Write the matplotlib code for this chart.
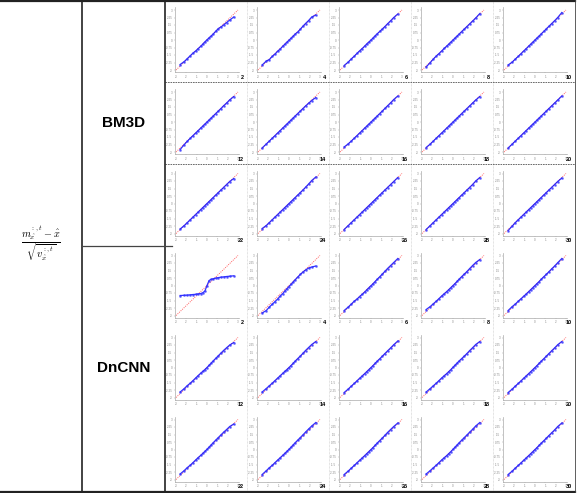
import matplotlib
matplotlib.use("Agg")
import matplotlib.pyplot as plt

plt.rcParams['font.family'] = ['Liberation Sans', 'DejaVu Sans']
plt.rcParams['mathtext.fontset'] = 'cm'

W, H = 581, 493

# theoretical quantiles (x) shared by every panel
theo = [-2.6, -2.2, -1.9, -1.6, -1.35, -1.1, -0.85, -0.6, -0.4, -0.2, 0.0,
        0.2, 0.4, 0.6, 0.85, 1.1, 1.35, 1.6, 1.9, 2.2, 2.6]

methods = ["BM3D", "DnCNN"]
sigmas = [2, 4, 6, 8, 10, 12, 14, 16, 18, 20, 22, 24, 26, 28, 30]

# sample quantiles
bm3d_q = {
    2:  [-2.45, -2.15, -1.85, -1.55, -1.3, -1.1, -0.85, -0.62, -0.4, -0.18, 0.02, 0.22, 0.4, 0.6, 0.88, 1.15, 1.3, 1.5, 1.75, 2.0, 2.3],
    4:  [-2.5, -2.1, -1.95, -1.62, -1.4, -1.12, -0.9, -0.62, -0.42, -0.22, -0.02, 0.18, 0.38, 0.6, 0.8, 1.08, 1.38, 1.65, 1.95, 2.3, 2.5],
    6:  [-2.55, -2.2, -1.88, -1.6, -1.33, -1.08, -0.85, -0.6, -0.38, -0.2, 0.0, 0.2, 0.42, 0.62, 0.86, 1.1, 1.35, 1.62, 1.92, 2.25, 2.6],
    8:  [-2.7, -2.25, -1.9, -1.58, -1.35, -1.1, -0.84, -0.6, -0.4, -0.2, 0.0, 0.2, 0.4, 0.6, 0.85, 1.1, 1.35, 1.6, 1.9, 2.2, 2.65],
    10: [-2.5, -2.2, -1.9, -1.62, -1.36, -1.1, -0.86, -0.6, -0.4, -0.2, 0.0, 0.21, 0.4, 0.61, 0.86, 1.12, 1.37, 1.63, 1.93, 2.25, 2.75],
    12: [-2.75, -2.25, -1.92, -1.6, -1.35, -1.1, -0.85, -0.6, -0.4, -0.2, 0.0, 0.2, 0.4, 0.6, 0.85, 1.1, 1.35, 1.62, 1.9, 2.22, 2.55],
    14: [-2.6, -2.2, -1.9, -1.6, -1.35, -1.1, -0.85, -0.6, -0.4, -0.2, 0.0, 0.2, 0.4, 0.6, 0.85, 1.1, 1.35, 1.6, 1.88, 2.15, 2.45],
    16: [-2.5, -2.18, -1.9, -1.6, -1.35, -1.1, -0.85, -0.6, -0.4, -0.2, 0.0, 0.2, 0.4, 0.6, 0.85, 1.1, 1.36, 1.62, 1.92, 2.25, 2.6],
    18: [-2.55, -2.2, -1.9, -1.6, -1.35, -1.1, -0.85, -0.6, -0.4, -0.2, 0.0, 0.2, 0.4, 0.6, 0.85, 1.1, 1.35, 1.6, 1.9, 2.2, 2.55],
    20: [-2.6, -2.2, -1.9, -1.6, -1.35, -1.1, -0.85, -0.6, -0.4, -0.2, 0.0, 0.2, 0.4, 0.6, 0.85, 1.1, 1.35, 1.6, 1.9, 2.2, 2.6],
    22: [-2.55, -2.2, -1.9, -1.6, -1.35, -1.1, -0.85, -0.6, -0.4, -0.2, 0.0, 0.2, 0.4, 0.6, 0.85, 1.1, 1.35, 1.6, 1.9, 2.2, 2.5],
    24: [-2.5, -2.2, -1.9, -1.6, -1.35, -1.1, -0.85, -0.6, -0.4, -0.2, 0.0, 0.2, 0.4, 0.6, 0.85, 1.1, 1.35, 1.62, 1.95, 2.3, 2.65],
    26: [-2.6, -2.2, -1.9, -1.6, -1.35, -1.1, -0.85, -0.6, -0.4, -0.2, 0.0, 0.2, 0.4, 0.6, 0.85, 1.1, 1.35, 1.6, 1.9, 2.2, 2.6],
    28: [-2.6, -2.2, -1.9, -1.6, -1.35, -1.1, -0.85, -0.6, -0.4, -0.2, 0.0, 0.2, 0.4, 0.6, 0.85, 1.1, 1.35, 1.6, 1.9, 2.25, 2.6],
    30: [-2.7, -2.25, -1.9, -1.6, -1.35, -1.1, -0.85, -0.6, -0.4, -0.2, 0.0, 0.2, 0.4, 0.6, 0.85, 1.1, 1.35, 1.6, 1.9, 2.2, 2.55],
}

dncnn_q = {
    2:  [-1.0, -0.98, -0.96, -0.93, -0.9, -0.88, -0.84, -0.8, -0.72, -0.55, 0.0, 0.5, 0.62, 0.68, 0.74, 0.79, 0.83, 0.86, 0.9, 0.93, 0.97],
    4:  [-2.75, -2.5, -2.15, -1.85, -1.6, -1.35, -1.05, -0.8, -0.55, -0.32, -0.1, 0.12, 0.35, 0.58, 0.85, 1.12, 1.35, 1.55, 1.75, 1.85, 1.95],
    6:  [-2.5, -2.15, -1.85, -1.55, -1.35, -1.1, -0.88, -0.64, -0.42, -0.22, -0.02, 0.18, 0.4, 0.62, 0.88, 1.15, 1.42, 1.7, 2.0, 2.3, 2.7],
    8:  [-2.4, -2.1, -1.82, -1.55, -1.3, -1.05, -0.82, -0.6, -0.4, -0.2, 0.0, 0.2, 0.42, 0.64, 0.9, 1.15, 1.4, 1.68, 2.0, 2.3, 2.6],
    10: [-2.5, -2.1, -1.85, -1.55, -1.32, -1.08, -0.85, -0.6, -0.4, -0.2, 0.0, 0.2, 0.4, 0.62, 0.88, 1.12, 1.38, 1.65, 1.95, 2.28, 2.7],
    12: [-2.45, -2.1, -1.8, -1.55, -1.3, -1.05, -0.8, -0.56, -0.38, -0.2, 0.0, 0.22, 0.44, 0.66, 0.92, 1.18, 1.44, 1.7, 1.98, 2.25, 2.5],
    14: [-2.45, -2.1, -1.82, -1.55, -1.3, -1.06, -0.82, -0.58, -0.38, -0.2, 0.0, 0.2, 0.42, 0.64, 0.9, 1.15, 1.42, 1.7, 2.0, 2.3, 2.6],
    16: [-2.5, -2.15, -1.85, -1.58, -1.32, -1.08, -0.84, -0.6, -0.4, -0.2, 0.0, 0.2, 0.42, 0.63, 0.88, 1.14, 1.4, 1.66, 1.96, 2.28, 2.65],
    18: [-2.45, -2.1, -1.82, -1.55, -1.3, -1.05, -0.82, -0.6, -0.4, -0.2, 0.02, 0.24, 0.45, 0.66, 0.9, 1.15, 1.4, 1.68, 1.98, 2.3, 2.6],
    20: [-2.5, -2.15, -1.85, -1.58, -1.33, -1.08, -0.84, -0.6, -0.4, -0.2, 0.0, 0.2, 0.42, 0.63, 0.88, 1.14, 1.4, 1.66, 1.96, 2.28, 2.6],
    22: [-2.45, -2.1, -1.8, -1.55, -1.3, -1.05, -0.8, -0.58, -0.38, -0.18, 0.02, 0.24, 0.46, 0.68, 0.94, 1.2, 1.46, 1.72, 2.0, 2.3, 2.55],
    24: [-2.5, -2.12, -1.82, -1.56, -1.3, -1.06, -0.82, -0.58, -0.38, -0.18, 0.02, 0.24, 0.46, 0.68, 0.94, 1.2, 1.46, 1.74, 2.05, 2.35, 2.7],
    26: [-2.5, -2.15, -1.85, -1.58, -1.32, -1.08, -0.84, -0.6, -0.4, -0.2, 0.0, 0.2, 0.42, 0.64, 0.9, 1.15, 1.42, 1.7, 2.0, 2.3, 2.65],
    28: [-2.45, -2.1, -1.82, -1.55, -1.3, -1.05, -0.82, -0.6, -0.4, -0.2, 0.02, 0.24, 0.46, 0.68, 0.94, 1.2, 1.45, 1.72, 2.02, 2.35, 2.7],
    30: [-2.5, -2.15, -1.85, -1.58, -1.33, -1.08, -0.84, -0.6, -0.4, -0.2, 0.0, 0.2, 0.42, 0.63, 0.88, 1.14, 1.4, 1.66, 1.96, 2.3, 2.65],
}

x_ticks = [-3, -2, -1, 0, 1, 2, 3]
y_ticks = [-3.0, -2.25, -1.5, -0.75, 0.0, 0.75, 1.5, 2.25, 3.0]

col_x = [165, 247, 329, 411, 493]
row_y = [0, 82, 163.5, 245.5, 327.5, 409.5]
cell_w, cell_h = 82, 82


def box(x0, y0, w, h):
    return [x0 / W, 1 - (y0 + h) / H, w / W, h / H]


fig = plt.figure(figsize=(W / 100, H / 100), dpi=100)

# table frame drawn on an overlay in pixel units
frame = fig.add_axes([0, 0, 1, 1])
frame.set_xlim(0, W)
frame.set_ylim(H, 0)
frame.axis('off')

for xs in col_x[1:]:
    frame.plot([xs, xs], [0, 491.5], color='#c8c8c8', lw=0.5, ls=(0, (1, 1)))
for ys in row_y[1:3]:
    frame.plot([165, 575], [ys, ys], color='#555555', lw=0.6, ls=(0, (2, 1)))
frame.plot([0, 575], [0.8, 0.8], color='#222222', lw=1.6)
frame.plot([0, 575], [491.5, 491.5], color='#222222', lw=1.6)
frame.plot([82.3, 82.3], [0, 491.5], color='#222222', lw=1.2)
frame.plot([164.7, 164.7], [0, 491.5], color='#222222', lw=1.2)
frame.plot([575, 575], [0, 491.5], color='#444444', lw=0.6)
frame.plot([82.3, 172], [246, 246], color='#444444', lw=0.9)

frame.text(41, 244, r'$\frac{m_{\hat{x}}^{:,t}-\hat{x}}{\sqrt{v_{\hat{x}}^{:,t}}}$',
           ha='center', va='center', fontsize=10.5)
frame.text(124, 123, "BM3D", ha='center', va='center', fontsize=11, fontweight='bold')
frame.text(124, 368, "DnCNN", ha='center', va='center', fontsize=11, fontweight='bold')

for m, method in enumerate(methods):
    data = bm3d_q if method == "BM3D" else dncnn_q
    for k, s in enumerate(sigmas):
        r = m * 3 + k // 5
        c = k % 5
        x0, y0 = col_x[c], row_y[r]
        ax = fig.add_axes(box(x0 + 10, y0 + 7, 64, 65))
        ax.plot([-3, 3], [-3, 3], color='#ff6060', lw=0.7, ls=(0, (1, 1.2)), zorder=1)
        ax.plot(theo, data[s], color='#0000ff', lw=0.9, alpha=0.8, zorder=2)
        ax.plot(theo, data[s], ls='none', marker='.', ms=2.0, color='#3030ff',
                alpha=0.6, zorder=3)
        ax.set_xlim(-3.1, 3.1)
        ax.set_ylim(-3.2, 3.3)
        ax.set_xticks(x_ticks)
        ax.set_yticks(y_ticks)
        ax.set_xticklabels([str(v) for v in x_ticks])
        ax.set_yticklabels([f"{v:g}" for v in y_ticks])
        ax.tick_params(labelsize=2.2, length=1, width=0.3, pad=0.8,
                       colors='#999999', labelcolor='#888888')
        for side in ['top', 'right']:
            ax.spines[side].set_visible(False)
        for side in ['left', 'bottom']:
            ax.spines[side].set_color('#aaaaaa')
            ax.spines[side].set_linewidth(0.5)
        ax.patch.set_alpha(0)
        frame.text(x0 + cell_w - 3, y0 + cell_h - 3, str(s), ha='right',
                   va='baseline', fontsize=4, fontweight='bold')

fig.savefig("out.png", dpi=100)
